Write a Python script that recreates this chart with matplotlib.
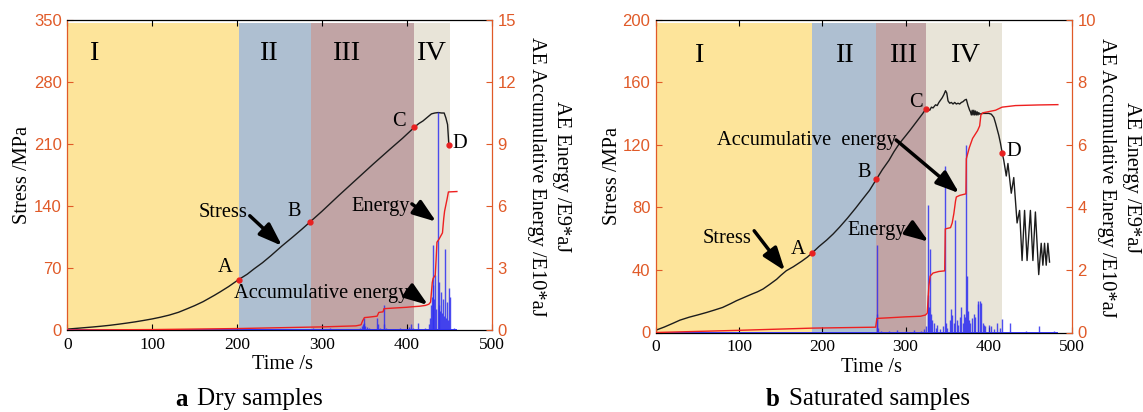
import matplotlib
matplotlib.use("Agg")
import matplotlib.pyplot as plt

plt.rcParams["font.family"] = ["Liberation Serif", "DejaVu Serif"]

ORANGE = "#E05A28"
STAGE_COLORS = ["#FDE49A", "#AEBFD1", "#C1A4A5", "#E8E4D8"]
STAGE_NAMES = ["I", "II", "III", "IV"]
POINT_NAMES = ["A", "B", "C", "D"]

# ---------------- Dry samples ----------------
dry_stage_edges = [0, 202, 287, 408, 451]

dry_stress_t = [0, 10, 20, 30, 40, 50, 60, 70, 80, 90, 100, 110, 120, 131,
                140, 150, 160, 173, 180, 190, 202, 212, 220, 230, 240, 253,
                265, 276, 286, 300, 320, 340, 360, 380, 395, 409, 414, 419,
                424, 429, 433, 437, 441, 444, 446, 448, 449, 449.6]
dry_stress = [1, 1.8, 2.6, 3.4, 4.3, 5.3, 6.5, 7.8, 9.2, 10.8, 12.5, 14.5,
              16.8, 20, 23.5, 27.5, 32, 39, 43, 49, 57, 63, 69, 76, 84, 95,
              104.5, 113.5, 122, 134, 152, 169.5, 187, 204, 216.5, 229, 233,
              236, 240, 244, 245, 245.5, 245, 245, 239.5, 232, 217, 207]

dry_points_t = [202, 286, 409, 450]
dry_points_s = [57, 122, 229, 209]

dry_energy_t = [240, 255, 290, 300, 310, 318, 330, 345, 347, 348, 349, 350,
                351, 353, 356, 360, 365, 366, 368, 372.6, 373.5, 375, 385,
                392, 398, 402, 405, 407, 413, 422, 426, 427, 428.6, 429.5,
                430.5, 431.4, 432.5, 433.7, 434.5, 436.5, 437.5, 438.4,
                439.5, 440.8, 442, 443.1, 444, 445.1, 446, 447, 448, 449.4,
                451, 455]
dry_energy = [0.05, 0.04, 0.12, 0.06, 0.08, 0.05, 0.06, 0.1, 0.2, 0.3, 0.57,
              0.35, 0.2, 0.15, 0.1, 0.05, 0.57, 0.3, 0.1, 1.19, 0.3, 0.08,
              0.06, 0.1, 0.07, 0.15, 0.29, 0.1, 0.35, 0.1, 0.3, 0.6, 1.19,
              1.6, 2.2, 4.1, 1.5, 2.65, 1.0, 10.55, 1.2, 2.32, 0.9, 1.84,
              0.8, 1.5, 0.7, 3.94, 0.6, 1.35, 0.5, 2.03, 1.6, 0.1]
dry_record_end = 459

dry_cum_t = [0, 100, 200, 287, 300, 340, 346, 348, 350, 355, 365, 367, 372,
             373, 380, 400, 405, 415, 422, 426, 428, 430, 431, 433.5, 434.5,
             435.5, 438, 440, 442, 443.5, 444.5, 446, 447.5, 449, 459]
dry_cum = [0, 0.02, 0.07, 0.14, 0.15, 0.2, 0.25, 0.45, 0.6, 0.62, 0.67, 0.85,
           0.88, 1.03, 1.05, 1.1, 1.12, 1.15, 1.19, 1.25, 1.35, 2.3, 2.5,
           2.65, 3.4, 4.25, 4.4, 4.55, 4.7, 5.4, 5.75, 6.05, 6.35, 6.68, 6.7]

# ---------------- Saturated samples ----------------
sat_stage_edges = [0, 188, 264, 324, 416]

sat_stress_t = [0, 10, 20, 28.8, 40, 50, 60.8, 70, 80, 90, 96.7, 105, 115,
                122, 128.7, 136, 145, 150, 156.7, 165, 175, 182, 188, 196,
                205, 213, 220.6, 230, 240, 248, 256.6, 265, 272, 280, 286,
                292.6, 299, 305, 310, 315, 320, 324,
                327, 329, 331, 333, 336, 338, 340, 342, 344, 346, 348, 349.5,
                351, 353, 355, 357, 359, 361, 363, 365, 367, 369, 371, 373,
                375, 377, 378, 379, 380, 381, 382, 383, 384, 385, 386, 387,
                388, 389, 392, 396, 400, 403, 406, 408, 410, 412, 414, 416,
                418, 421, 423, 427, 430, 434, 437, 440, 443, 446, 450, 453,
                456, 460, 463, 465, 467, 469, 471, 473]
sat_stress = [1.5, 3.5, 5.8, 7.9, 9.8, 11.2, 12.8, 14.3, 16, 18.5, 20.3, 22.2,
              24.5, 26, 27.8, 30.5, 34, 36.5, 39.5, 42, 45.5, 48.2, 51, 55,
              59, 63, 67.3, 73, 79.5, 85, 90.8, 98, 104, 110, 115.5, 120.8,
              125, 129, 132.5, 136, 139.5, 142.5,
              143, 142, 144, 143.5, 145.5, 145, 147, 148.5, 150, 152, 154.5,
              153, 148, 146.5, 147, 146, 147, 146, 146.5, 146, 147, 147.5,
              148.5, 149, 145, 142, 141, 139, 142, 139, 142, 139, 141.5, 139,
              141, 139, 140.5, 139.5, 140, 140, 140, 139.5, 137.5, 134, 130,
              126, 121, 115, 110, 100, 108, 89, 99, 70, 78, 46, 78, 46, 78,
              46, 77, 37, 57, 43, 57, 43, 57, 45]

sat_points_t = [188, 265, 324, 416]
sat_points_s = [51, 98, 142.5, 115]

sat_energy_t = [30, 120, 200, 265.4, 266, 267, 270, 280, 290, 300, 310, 318,
                322, 325, 326.5, 327.5, 328.5, 329.4, 330.5, 332, 334, 336,
                338, 341, 345, 347.7, 348.5, 350, 353, 354.5, 356, 358,
                359.8, 361.5, 363, 365, 367, 369, 370, 371, 372.7, 373.8, 375,
                376, 378, 380, 382, 384, 386.5, 387.5, 389, 390.5, 392.5, 394,
                396, 400, 403, 406, 410, 413, 416, 425, 445, 460, 478]
sat_energy = [0.02, 0.02, 0.03, 2.78, 0.6, 0.15, 0.05, 0.06, 0.08, 0.05, 0.07,
              0.04, 0.1, 0.2, 4.06, 1.2, 0.8, 2.67, 0.6, 0.4, 0.3, 0.15, 0.25,
              0.1, 0.2, 5.31, 0.3, 0.15, 0.4, 0.75, 0.55, 0.3, 3.58, 0.4,
              0.25, 0.5, 0.8, 0.3, 0.6, 0.5, 6.0, 1.8, 0.7, 0.4, 0.3, 0.45,
              0.6, 0.5, 1.0, 0.9, 1.0, 0.95, 0.3, 0.25, 0.2, 0.25, 0.2, 0.1,
              0.3, 0.15, 0.43, 0.3, 0.05, 0.2, 0.05]
sat_record_end = 483

sat_cum_t = [0, 100, 188, 264, 265.5, 280, 300, 318, 324, 326, 328, 329.5,
             333, 340, 347, 347.7, 354, 356, 358, 360, 361, 365, 372.5, 373,
             376.5, 380.5, 386.5, 389, 390.5, 393, 408, 416, 432, 460, 483]
sat_cum = [0, 0.07, 0.14, 0.17, 0.45, 0.47, 0.5, 0.52, 0.56, 0.62, 1.5, 1.8,
           1.9, 1.95, 1.97, 3.31, 3.35, 3.5, 3.8, 4.2, 4.33, 4.38, 4.43,
           5.55, 5.9, 6.2, 6.45, 6.6, 6.95, 7.02, 7.1, 7.2, 7.25, 7.27, 7.28]


def arrow(ax, tail, head):
    ax.annotate("", xy=head, xytext=tail,
                arrowprops=dict(arrowstyle="-|>,head_length=0.7,head_width=0.25",
                                lw=2.5, color="black", shrinkA=0, shrinkB=0,
                                mutation_scale=20))


def draw_panel(fig, rect, edges, numeral_t, numeral_y, stress_t, stress,
               pts_t, pts_s, pt_label_xy, e_t, e_v, rec_end, c_t, c_v,
               ymax, ystep, y2max, y2step, notes, label_x, sub_x):
    ax = fig.add_axes(rect)
    ax2 = ax.twinx()

    ax.set_xlim(0, 500)
    ax.set_ylim(0, ymax)
    ax2.set_ylim(0, y2max)
    ax.set_xticks(range(0, 501, 100))
    ax.set_yticks(range(0, ymax + 1, ystep))
    ax2.set_yticks(range(0, y2max + 1, y2step))

    # loading stages
    for i in range(4):
        ax.axvspan(edges[i], edges[i + 1], ymin=0, ymax=0.99,
                   color=STAGE_COLORS[i], lw=0, zorder=0)
        ax.text(numeral_t[i], numeral_y, STAGE_NAMES[i], fontsize=20.5,
                ha="center", va="center", zorder=3)

    # stress curve and characteristic points
    ax.plot(stress_t, stress, color="#1c1c1c", lw=1.0, zorder=2)
    ax.plot(pts_t, pts_s, "o", color="#E82020", ms=3.5, zorder=4)
    for name, (lx, ly) in zip(POINT_NAMES, pt_label_xy):
        ax.text(lx, ly, name, fontsize=14.7, ha="center", va="center", zorder=5)

    # AE energy events and accumulated energy
    ax2.hlines(0, 0, rec_end, color="#2828F0", lw=1.3)
    ax2.vlines(e_t, 0, e_v, color="#3030F0", lw=1.0, alpha=0.85)
    ax2.plot(c_t, c_v, color="#EE2020", lw=1.0)

    for text, txy, tail, head in notes:
        ax2.text(txy[0], txy[1], text, fontsize=14.7, ha="center", va="center")
        arrow(ax2, tail, head)

    # spines and ticks
    for a in (ax, ax2):
        for s in a.spines.values():
            s.set_linewidth(0.9)
    ax.spines["left"].set_color(ORANGE)
    ax.spines["right"].set_visible(False)
    ax2.spines["right"].set_color(ORANGE)
    for side in ("left", "top", "bottom"):
        ax2.spines[side].set_visible(False)

    ax.tick_params(axis="x", direction="in", top=True, length=4, width=0.8,
                   labelsize=12.5, pad=5)
    ax.tick_params(axis="y", direction="in", colors=ORANGE, length=4,
                   width=0.8, labelsize=12, pad=4, right=False)
    ax2.tick_params(axis="y", direction="in", colors=ORANGE, length=4,
                    width=0.8, labelsize=12, pad=4)
    for lab in ax.get_yticklabels() + ax2.get_yticklabels():
        lab.set_fontfamily("Liberation Sans")

    ax.set_xlabel("Time /s", fontsize=14.7)
    ax.xaxis.set_label_coords(label_x, -0.112)
    ax.xaxis.label.set_va("center")
    ax.set_ylabel("Stress /MPa", fontsize=14.7)
    ax.yaxis.set_label_coords(-0.105, 0.5)
    ax.yaxis.label.set_va("center")

    ax2.text(sub_x[0], 0.494, "AE Accumulative Energy /E10*aJ", fontsize=14.7,
             rotation=270, ha="center", va="center", transform=ax2.transAxes)
    ax2.text(sub_x[1], 0.496, "AE Energy /E9*aJ", fontsize=14.7,
             rotation=270, ha="center", va="center", transform=ax2.transAxes)
    return ax, ax2


fig = plt.figure(figsize=(11.43, 4.12), dpi=100)
W, H = 1143.0, 412.0

draw_panel(
    fig, [67.3 / W, (H - 330) / H, 424.4 / W, 310 / H],
    dry_stage_edges, [31, 237, 328, 429], 312,
    dry_stress_t, dry_stress, dry_points_t, dry_points_s,
    [(186.5, 71), (267.6, 134), (390.8, 235), (463, 211)],
    dry_energy_t, dry_energy, dry_record_end, dry_cum_t, dry_cum,
    350, 70, 15, 3,
    [("Stress", (184, 133 * 15 / 350), (215, 129 * 15 / 350), (253, 95 * 15 / 350)),
     ("Energy", (369.7, 6.0), (406, 6.1), (434.6, 5.24)),
     ("Accumulative energy", (299, 1.75), (404, 1.83), (425, 1.21))],
    0.506, (1.106, 1.165))

draw_panel(
    fig, [656 / W, (H - 332.5) / H, 416 / W, 313 / H],
    sat_stage_edges, [51, 226, 297, 372], 177,
    sat_stress_t, sat_stress, sat_points_t, sat_points_s,
    [(171, 53.3), (250.6, 102), (312, 147), (430, 115.6)],
    sat_energy_t, sat_energy, sat_record_end, sat_cum_t, sat_cum,
    200, 40, 10, 2,
    [("Stress", (85, 60.3 / 20), (118, 65 / 20), (155, 39.4 / 20)),
     ("Accumulative  energy", (181, 6.15), (288.6, 6.15), (364.5, 4.45)),
     ("Energy", (265, 3.27), (304.6, 3.33), (327.7, 2.9))],
    0.518, (1.083, 1.1435))

# panel captions
fig.text(175 / W, 1 - 399 / H, "a", fontsize=18, fontweight="bold",
         ha="left", va="center")
fig.text(197 / W, 1 - 399 / H, "Dry samples", fontsize=18,
         ha="left", va="center")
fig.text(766 / W, 1 - 399 / H, "b", fontsize=18, fontweight="bold",
         ha="left", va="center")
fig.text(789 / W, 1 - 399 / H, "Saturated samples", fontsize=18,
         ha="left", va="center")

fig.savefig("out.png", dpi=100)
